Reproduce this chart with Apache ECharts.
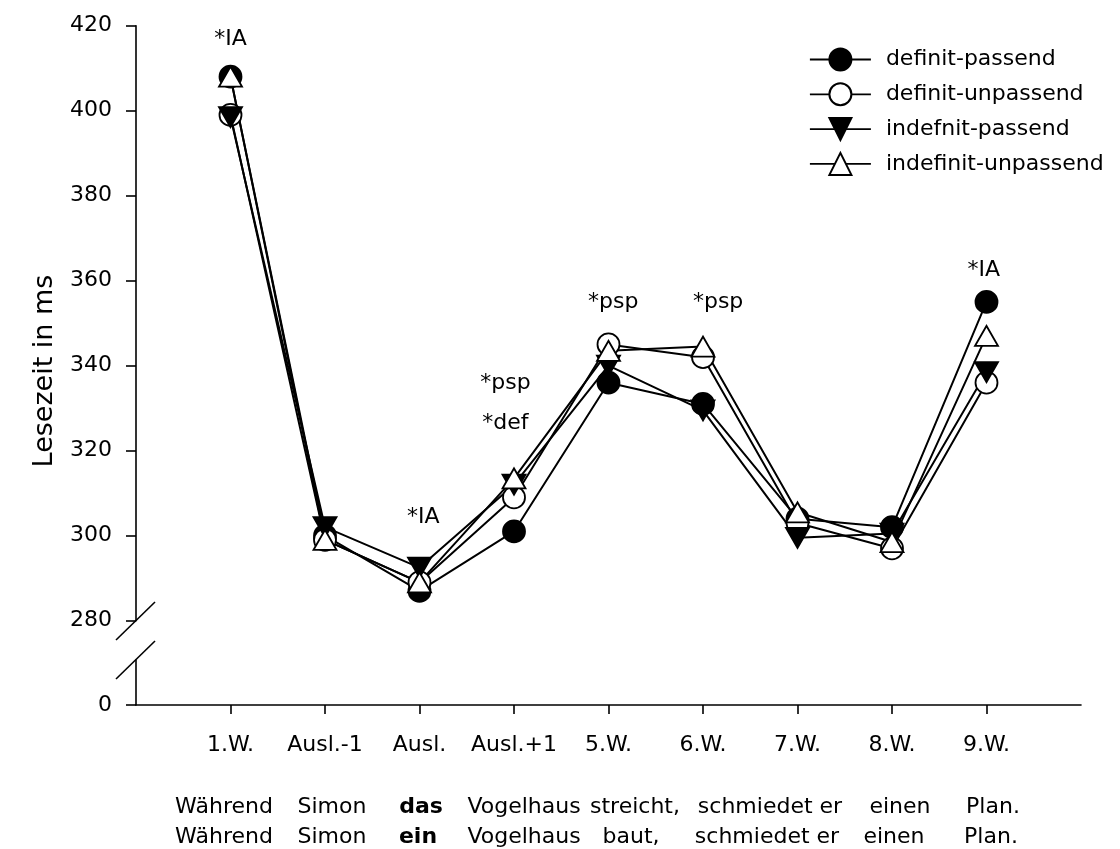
<!DOCTYPE html>
<html>
<head>
<meta charset="utf-8">
<script src="https://cdn.jsdelivr.net/npm/echarts@6/dist/echarts.min.js"></script>
<style>
  html, body { margin: 0; padding: 0; background: #fff; }
  #chart { width: 1120px; height: 849px; }
</style>
</head>
<body>
<div id="chart"></div>
<script>
// Word positions (regions of the sentence)
const categories = ['1.W.', 'Ausl.-1', 'Ausl.', 'Ausl.+1', '5.W.', '6.W.', '7.W.', '8.W.', '9.W.'];

// Reading times in ms per condition
const definitPassend     = [408, 300, 287, 301, 336, 331, 304, 302, 355];
const definitUnpassend   = [399, 299, 289, 309, 345, 342, 303, 297, 336];
const indefinitPassend   = [398.5, 302, 292.5, 312, 340, 329.5, 299.5, 300.5, 338.5];
const indefinitUnpassend = [408, 299, 289, 313.5, 343.5, 344.5, 305.5, 298.5, 347];

const seriesNames = ['definit-passend', 'definit-unpassend', 'indefnit-passend', 'indefinit-unpassend'];

// Significance markers: text, position along the x scale, height in ms
const annotationTexts = ['*IA', '*IA', '*psp', '*def', '*psp', '*psp', '*IA'];
const annotationX     = [1, 3.04, 3.91, 3.91, 5.05, 6.16, 8.97];
const annotationY     = [416.9, 304.4, 335.9, 326.5, 355, 355, 362.5];

// Example sentences under the axis
const sentenceDefinit   = ['Während', 'Simon', 'das', 'Vogelhaus', 'streicht,', 'schmiedet er', 'einen', 'Plan.'];
const sentenceIndefinit = ['Während', 'Simon', 'ein', 'Vogelhaus', 'baut,', 'schmiedet er', 'einen', 'Plan.'];
const articleIndex = 2;

// Layout
const FONT = 'DejaVu Sans';
const wordCentersDef   = [224, 332, 421, 524, 635, 770, 900, 993];
const wordCentersIndef = [224, 332, 418, 524, 631, 767, 894, 991];

const chart = echarts.init(document.getElementById('chart'), null, { renderer: 'canvas' });

const toPoints = arr => arr.map((v, i) => [i + 1, v]);
const black = '#000';

function lineSeries(name, values, symbol, size, fill) {
  return {
    name: name,
    type: 'line',
    xAxisIndex: 0,
    yAxisIndex: 0,
    data: toPoints(values),
    symbol: symbol,
    symbolSize: size,
    showAllSymbol: true,
    lineStyle: { color: black, width: 2 },
    itemStyle: { color: fill, borderColor: black, borderWidth: 1.8 },
    emphasis: { disabled: true },
    z: 2
  };
}

const triangleDown = 'path://M0,0L2,0L1,1.74Z';

const sentenceGraphics = [];
function addSentence(words, centers, y) {
  words.forEach((w, i) => {
    sentenceGraphics.push({
      type: 'text',
      x: centers[i],
      y: y,
      style: {
        text: w,
        fill: black,
        font: (i === articleIndex ? 'bold ' : '') + '22px "' + FONT + '"',
        textAlign: 'center',
        textVerticalAlign: 'middle'
      }
    });
  });
}
addSentence(sentenceDefinit, wordCentersDef, 807);
addSentence(sentenceIndefinit, wordCentersIndef, 837);

const option = {
  animation: false,
  backgroundColor: '#fff',
  textStyle: { fontFamily: FONT, color: black },
  grid: [
    { left: 136, right: 39, top: 25.7, height: 595 },
    { left: 136, right: 39, top: 660, height: 45 }
  ],
  xAxis: [
    { gridIndex: 0, type: 'value', min: 0, max: 10, show: false },
    {
      gridIndex: 1, type: 'value', min: 0, max: 10,
      axisLine: { show: true, lineStyle: { color: black, width: 1.6 } },
      axisTick: { show: true, length: 9, customValues: [1, 2, 3, 4, 5, 6, 7, 8, 9], lineStyle: { color: black, width: 1.6 } },
      axisLabel: {
        customValues: [1, 2, 3, 4, 5, 6, 7, 8, 9],
        formatter: v => categories[Math.round(v) - 1] || '',
        margin: 29, fontSize: 22, color: black, fontFamily: FONT
      },
      splitLine: { show: false }
    }
  ],
  yAxis: [
    {
      gridIndex: 0, type: 'value', min: 280, max: 420, interval: 20,
      axisLine: { show: true, lineStyle: { color: black, width: 1.6 } },
      axisTick: { show: true, length: 10, lineStyle: { color: black, width: 1.6 } },
      axisLabel: { margin: 24, fontSize: 22, color: black, fontFamily: FONT },
      splitLine: { show: false }
    },
    {
      gridIndex: 1, type: 'value', min: 0, max: 10,
      axisLine: { show: true, lineStyle: { color: black, width: 1.6 } },
      axisTick: { show: true, length: 10, customValues: [0], lineStyle: { color: black, width: 1.6 } },
      axisLabel: { customValues: [0], margin: 24, fontSize: 22, color: black, fontFamily: FONT },
      splitLine: { show: false }
    }
  ],
  legend: {
    orient: 'vertical',
    left: 804,
    top: 42.5,
    itemWidth: 61,
    itemHeight: 27.5,
    itemGap: 10.8,
    data: seriesNames,
    lineStyle: { width: 1.8, color: black },
    textStyle: { fontSize: 22, color: black, fontFamily: FONT, padding: [0, 0, 0, 10] },
    selectedMode: false
  },
  series: [
    lineSeries(seriesNames[0], definitPassend, 'circle', 22, black),
    lineSeries(seriesNames[1], definitUnpassend, 'circle', 22, '#fff'),
    lineSeries(seriesNames[2], indefinitPassend, triangleDown, [23, 20], black),
    lineSeries(seriesNames[3], indefinitUnpassend, 'triangle', [23, 20], '#fff')
  ],
  graphic: [
    // axis break marks on the value axis
    { type: 'line', shape: { x1: 116, y1: 640, x2: 155, y2: 602 }, style: { stroke: black, lineWidth: 1.6 } },
    { type: 'line', shape: { x1: 116, y1: 679, x2: 155, y2: 641 }, style: { stroke: black, lineWidth: 1.6 } },
    {
      type: 'text',
      x: 45, y: 371,
      rotation: Math.PI / 2,
      style: {
        text: 'Lesezeit in ms',
        fill: black,
        font: '27px "' + FONT + '"',
        textAlign: 'center',
        textVerticalAlign: 'middle'
      }
    }
  ].concat(sentenceGraphics)
};

chart.setOption(option);

// Significance markers placed through the value scales of the plot grid
const annotationGraphics = annotationTexts.map((t, i) => {
  const p = chart.convertToPixel({ gridIndex: 0 }, [annotationX[i], annotationY[i]]);
  return {
    type: 'text',
    x: p[0],
    y: p[1],
    style: {
      text: t,
      fill: black,
      font: '22px "' + FONT + '"',
      textAlign: 'center',
      textVerticalAlign: 'middle'
    }
  };
});
chart.setOption({ graphic: option.graphic.concat(annotationGraphics) });
</script>
</body>
</html>
